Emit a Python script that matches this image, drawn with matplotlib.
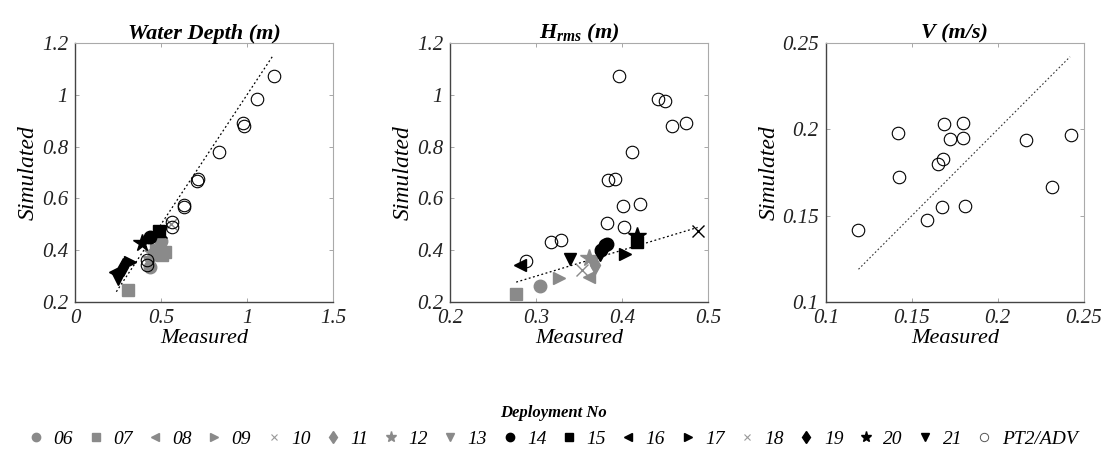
import matplotlib
matplotlib.use('Agg')
import matplotlib.pyplot as plt
from matplotlib.lines import Line2D

plt.rcParams['font.family'] = ['Liberation Serif', 'DejaVu Serif']
plt.rcParams['mathtext.fontset'] = 'custom'
plt.rcParams['mathtext.bf'] = 'Liberation Serif:bold:italic'
plt.rcParams['mathtext.it'] = 'Liberation Serif:italic'
plt.rcParams['mathtext.rm'] = 'Liberation Serif:italic'

# deployment legend: label, marker, colour
dep_labels = ['06', '07', '08', '09', '10', '11', '12', '13',
              '14', '15', '16', '17', '18', '19', '20', '21', 'PT2/ADV']
dep_markers = ['o', 's', '<', '>', 'x', 'd', '*', 'v',
               'o', 's', '<', '>', 'x', 'd', '*', 'v', 'o']
dep_colors = ['#8a8a8a'] * 8 + ['black'] * 8 + ['none']

# water depth (measured, simulated) per deployment
depth_meas = {
    '06': [0.50, 0.435], '07': [0.31, 0.523, 0.505], '08': [0.46], '09': [0.47],
    '10': [0.556], '11': [0.44], '12': [0.452], '13': [0.43],
    '14': [0.436], '15': [0.49], '16': [0.233], '17': [0.32],
    '18': [0.50], '19': [0.28], '20': [0.388], '21': [0.252],
    'PT2/ADV': [1.157, 1.056, 0.975, 0.98, 0.839, 0.717, 0.712, 0.636, 0.634,
                0.562, 0.562, 0.417, 0.42],
}
depth_sim = {
    '06': [0.435, 0.335], '07': [0.246, 0.395, 0.38], '08': [0.40], '09': [0.41],
    '10': [0.50], '11': [0.37], '12': [0.388], '13': [0.355],
    '14': [0.452], '15': [0.475], '16': [0.317], '17': [0.356],
    '18': [0.47], '19': [0.336], '20': [0.427], '21': [0.29],
    'PT2/ADV': [1.073, 0.983, 0.89, 0.88, 0.779, 0.674, 0.668, 0.575, 0.568,
                0.51, 0.49, 0.362, 0.345],
}
depth_line = [0.24, 1.15]

# Hrms
hrms_meas = {
    '06': [0.305], '07': [0.277], '08': [0.362], '09': [0.327],
    '10': [0.354], '11': [0.369], '12': [0.362], '13': [0.365],
    '14': [0.38, 0.376, 0.383], '15': [0.418], '16': [0.281], '17': [0.404],
    '18': [0.488], '19': [0.374], '20': [0.418], '21': [0.34],
    'PT2/ADV': [0.397, 0.442, 0.45, 0.458, 0.474, 0.412, 0.384, 0.392, 0.401,
                0.421, 0.383, 0.402, 0.318, 0.329, 0.288],
}
hrms_sim = {
    '06': [0.263], '07': [0.23], '08': [0.298], '09': [0.292],
    '10': [0.324], '11': [0.343], '12': [0.372], '13': [0.355],
    '14': [0.42, 0.40, 0.425], '15': [0.433], '16': [0.345], '17': [0.385],
    '18': [0.473], '19': [0.395], '20': [0.455], '21': [0.366],
    'PT2/ADV': [1.073, 0.983, 0.977, 0.88, 0.892, 0.778, 0.67, 0.674, 0.572,
                0.578, 0.504, 0.491, 0.43, 0.44, 0.36],
}
hrms_line = [0.277, 0.488]

# velocity (only PT2/ADV)
v_meas = [0.119, 0.142, 0.1426, 0.159, 0.1676, 0.165, 0.168, 0.169, 0.172,
          0.1798, 0.1798, 0.181, 0.2163, 0.2318, 0.2423]
v_sim = [0.142, 0.198, 0.1726, 0.1475, 0.155, 0.180, 0.1826, 0.203, 0.1946,
         0.2035, 0.195, 0.1558, 0.194, 0.1668, 0.197]
v_line = [0.119, 0.242]

titles = ['Water Depth (m)', r'$\mathbf{H_{rms}}$ (m)', 'V (m/s)']
xlims = [(0, 1.5), (0.2, 0.5), (0.1, 0.25)]
ylims = [(0.2, 1.2), (0.2, 1.2), (0.1, 0.25)]
xticks = [[0, 0.5, 1, 1.5], [0.2, 0.3, 0.4, 0.5], [0.1, 0.15, 0.2, 0.25]]
xticklabels = [['0', '0.5', '1', '1.5'], ['0.2', '0.3', '0.4', '0.5'],
               ['0.1', '0.15', '0.2', '0.25']]
yticks = [[0.2, 0.4, 0.6, 0.8, 1, 1.2], [0.2, 0.4, 0.6, 0.8, 1, 1.2],
          [0.1, 0.15, 0.2, 0.25]]
yticklabels = [['0.2', '0.4', '0.6', '0.8', '1', '1.2'],
               ['0.2', '0.4', '0.6', '0.8', '1', '1.2'],
               ['0.1', '0.15', '0.2', '0.25']]

fig = plt.figure(figsize=(11.07, 4.72), dpi=100)
lefts = [0.0678, 0.4065, 0.746]
axes = [fig.add_axes([l, 0.36, 0.233, 0.549]) for l in lefts]


def draw_marker(ax, xs, ys, i):
    m = dep_markers[i]
    c = dep_colors[i]
    ms = 13 if m == '*' else 9
    if c == 'none':
        ax.plot(xs, ys, ls='none', marker='o', ms=9, mfc='none', mec='black',
                mew=0.8, zorder=3)
    elif m == 'x':
        ax.plot(xs, ys, ls='none', marker='x', ms=8, color=c, mew=1.0, zorder=3)
    else:
        ax.plot(xs, ys, ls='none', marker=m, ms=ms, color=c, mec=c, zorder=3)


for ax, meas, sim, line in [(axes[0], depth_meas, depth_sim, depth_line),
                            (axes[1], hrms_meas, hrms_sim, hrms_line)]:
    ax.plot(line, line, ls=(0, (1.5, 2)), color='black', lw=0.9, zorder=2)
    for i, lab in enumerate(dep_labels):
        draw_marker(ax, meas[lab], sim[lab], i)

axes[2].plot(v_line, v_line, ls=(0, (1.5, 2)), color='#333333', lw=0.8, zorder=2)
draw_marker(axes[2], v_meas, v_sim, 16)

for k, ax in enumerate(axes):
    ax.set_xlim(xlims[k])
    ax.set_ylim(ylims[k])
    ax.set_xticks(xticks[k])
    ax.set_xticklabels(xticklabels[k])
    ax.set_yticks(yticks[k])
    ax.set_yticklabels(yticklabels[k])
    ax.tick_params(direction='in', top=True, right=True, length=3, width=0.6,
                   labelsize=15, pad=5, colors='#999999', labelcolor='#222222')
    for lab in ax.get_xticklabels() + ax.get_yticklabels():
        lab.set_fontstyle('italic')
    for s in ['top', 'right']:
        ax.spines[s].set_color('#aaaaaa')
        ax.spines[s].set_linewidth(0.8)
    for s in ['left', 'bottom']:
        ax.spines[s].set_color('#444444')
        ax.spines[s].set_linewidth(1.0)
    ax.set_xlabel('Measured', fontsize=16, fontstyle='italic', labelpad=1)
    ax.set_ylabel('Simulated', fontsize=17, fontstyle='italic', labelpad=2)
    ax.set_title(titles[k], fontsize=16, fontweight='bold', fontstyle='italic',
                 pad=3)

handles = []
for i, lab in enumerate(dep_labels):
    c = dep_colors[i]
    if c == 'none':
        h = Line2D([], [], ls='none', marker='o', ms=6, mfc='none', mec='#555555',
                   mew=0.7, label=lab)
    elif dep_markers[i] == 'x':
        h = Line2D([], [], ls='none', marker='x', ms=5, color='#999999', mew=0.8,
                   label=lab)
    else:
        ms = 8 if dep_markers[i] == '*' else 6
        h = Line2D([], [], ls='none', marker=dep_markers[i], ms=ms, color=c,
                   label=lab)
    handles.append(h)

leg = fig.legend(handles=handles, loc='lower center', bbox_to_anchor=(0.5, 0.014),
                 ncol=17, frameon=False, handlelength=0.7, handletextpad=0.55,
                 columnspacing=0.8, prop={'style': 'italic', 'size': 14},
                 title='Deployment No',
                 title_fontproperties={'weight': 'bold', 'style': 'italic',
                                       'size': 12})

fig.savefig('out.png', dpi=100)
